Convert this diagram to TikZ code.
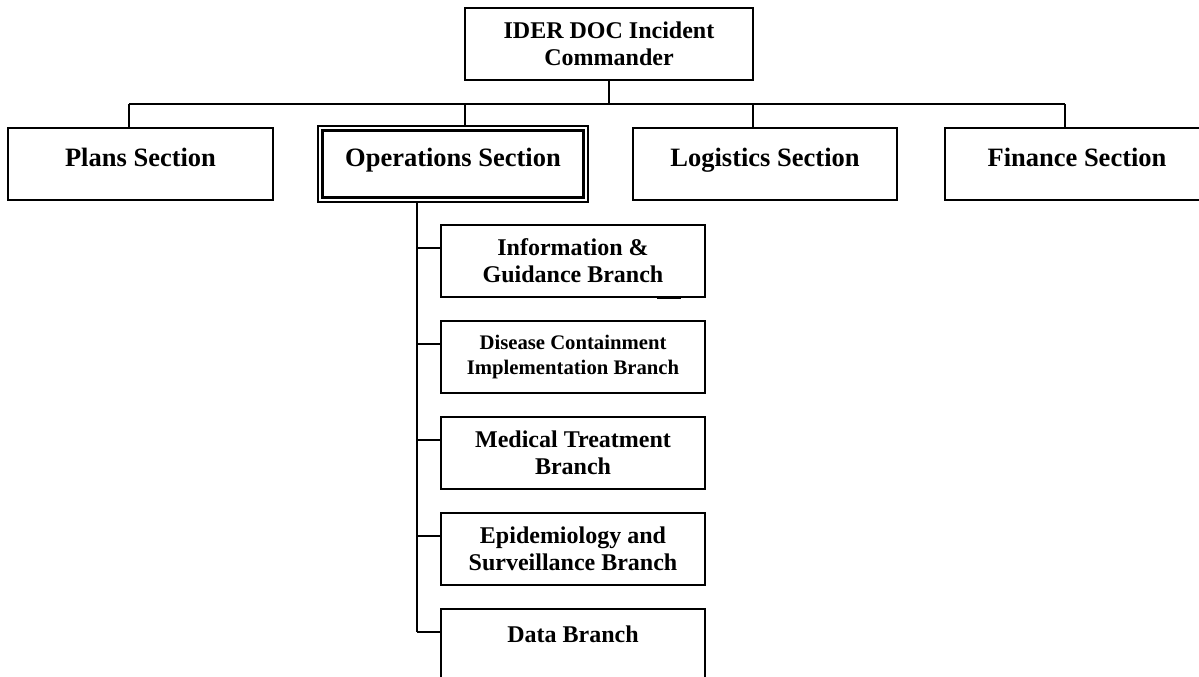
\documentclass[tikz,border=0pt]{standalone}
\usepackage{fontspec}
\setmainfont{Liberation Serif}
\usetikzlibrary{positioning,calc}
\tikzset{
	box/.style={draw,outer sep=0pt,inner sep=0pt,align=center,
		font=\fontsize{24}{27}\selectfont\bfseries,
		minimum width=264pt,minimum height=72pt},
	sec/.style={box,font=\fontsize{26.5}{30}\selectfont\bfseries,
		text height=14pt,text depth=10pt},
	small text/.style={font=\fontsize{20.7}{25}\selectfont\bfseries},
	heavy/.style={line width=2.6pt}
}

\begin{document}
\begin{tikzpicture}[x=1pt,y=-1pt,line width=1.6pt]
      \useasboundingbox (0,0) rectangle (1199,677);
      \clip (0,0) rectangle (1199,677);
      \node [box, minimum width=288pt] (cmd) at (609,44) {IDER DOC Incident\\Commander};
      \node [sec, minimum width=265pt] (plans) at (140.5,164) {Plans Section};
      \node [sec, right=45pt of plans, minimum width=270pt, minimum height=76pt] (ops) {Operations Section};
      \node [sec, right=45pt of ops] (logi) {Logistics Section};
      \node [sec, right=48pt of logi] (fin) {Finance Section};
      \draw [heavy] ([shift={(4.5,4.5)}]ops.north west) rectangle ([shift={(-4.5,-4.5)}]ops.south east);
      % branches under operations
      \node [box] (info) at (573,261) {Information \&\\Guidance Branch};
      \node [box, below=24pt of info, small text] (dis) {Disease Containment\\Implementation Branch};
      \node [box, below=24pt of dis, heavy] (med) {Medical Treatment\\Branch};
      \node [box, below=24pt of med] (epi) {Epidemiology and\\Surveillance Branch};
      \node [box, below=24pt of epi, text height=8pt, text depth=14pt] (data) {Data Branch};
      \draw ([xshift=84pt,yshift=-1pt]info.south) -- ++(24,0);
      % connectors
      \coordinate (busL) at (129,104);
      \coordinate (busR) at (1065,104);
      \coordinate (spine) at (417,0);
      \draw (busL) -- (busR);
      \draw (cmd.south) -- (cmd.south |- busL);
      \draw (busL) -- (busL |- plans.north);
      \draw (cmd.south west |- busL) -- (cmd.south west |- ops.north);
      \draw (cmd.south east |- busL) -- (cmd.south east |- logi.north);
      \draw (busR) -- (busR |- fin.north);
      \draw (ops.south -| spine) -- ([yshift=13pt]data.west -| spine);
      \foreach \b in {info,dis,med,epi,data}
         \draw ([yshift=13pt]\b.west) -- ([yshift=13pt]\b.west -| spine);
\end{tikzpicture}
\end{document}
